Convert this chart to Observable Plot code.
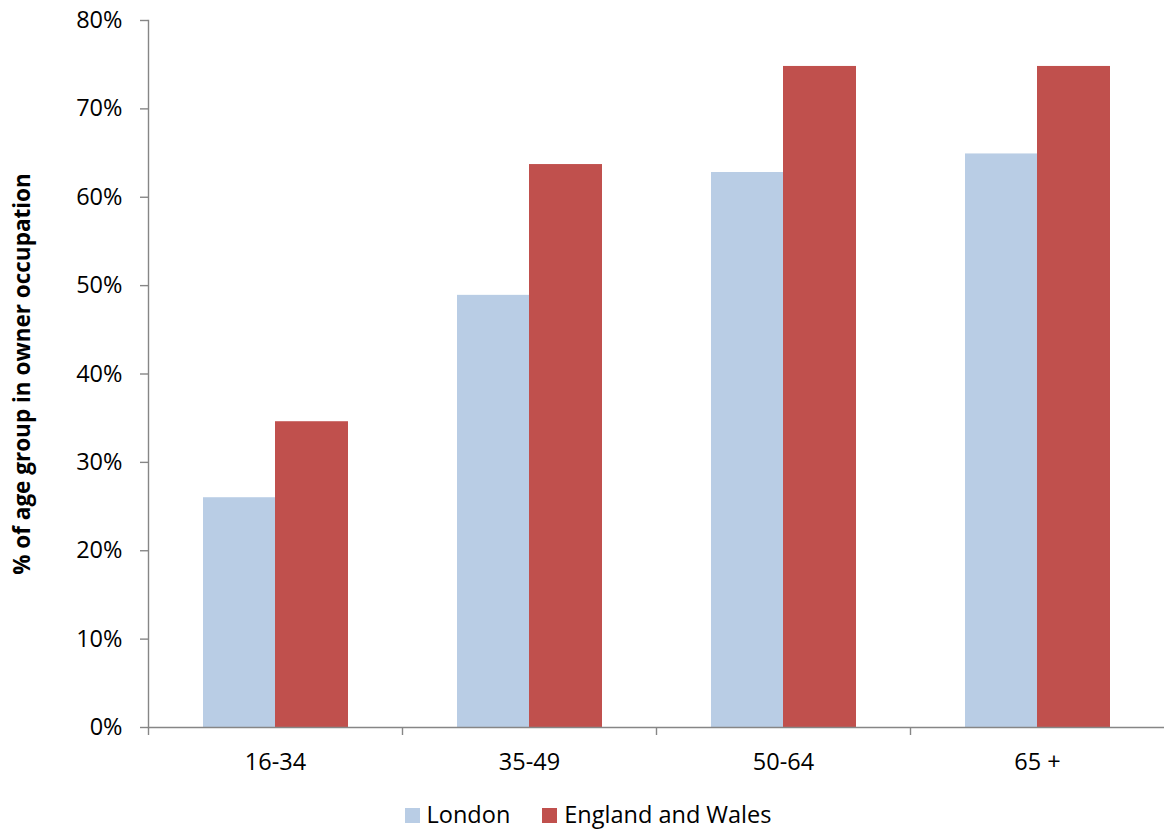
<!DOCTYPE html>
<html><head><meta charset="utf-8">
<script src="https://cdn.jsdelivr.net/npm/d3@7"></script>
<script src="https://cdn.jsdelivr.net/npm/@observablehq/plot@0.6"></script>
<style>
body{margin:0;background:#fff;font-family:"Open Sans",sans-serif;overflow:hidden;}
#chart svg{display:block;}
#legend{display:flex;justify-content:center;align-items:center;height:34px;font-size:23.5px;line-height:1;color:#000;padding-left:12px;}
.item{display:flex;align-items:center;margin:0 16px;}
.sw{width:15px;height:15px;margin-right:7px;}
</style></head><body><div id="chart"></div><div id="legend"></div>
<script>
const ageGroups = ["16-34", "35-49", "50-64", "65 +"];
const seriesNames = ["London", "England and Wales"];
const londonValues = [0.26, 0.489, 0.628, 0.649];
const englandWalesValues = [0.346, 0.637, 0.748, 0.748];
const yTicks = [0, 0.1, 0.2, 0.3, 0.4, 0.5, 0.6, 0.7, 0.8];
const seriesColors = ["#B9CDE5", "#C0504D"];
const yLabel = "% of age group in owner occupation";

const london = ageGroups.map((a, i) => ({age: a, series: seriesNames[0], value: londonValues[i]}));
const ew = ageGroups.map((a, i) => ({age: a, series: seriesNames[1], value: englandWalesValues[i]}));

const axisColor = "#868686";
const chart = Plot.plot({
  width: 1164,
  height: 798,
  marginLeft: 148,
  marginRight: 0,
  marginTop: 20,
  marginBottom: 71,
  style: {fontFamily: "'Open Sans', sans-serif", fontSize: "23.5px", color: "#000", background: "#fff"},
  x: {domain: ageGroups, padding: 0, axis: null},
  y: {domain: [0, 0.8], axis: null},
  color: {domain: seriesNames, range: seriesColors},
  marks: [
    Plot.barY(london, {x: "age", y: "value", fill: "series", insetLeft: 55, insetRight: 127}),
    Plot.barY(ew, {x: "age", y: "value", fill: "series", insetLeft: 127, insetRight: 54}),
    Plot.axisY({ticks: yTicks, tickFormat: d3.format(".0%"), tickSize: 8, tickPadding: 18, stroke: axisColor, strokeWidth: 1.4, label: null, fontSize: 23.5, fill: "#000"}),
    Plot.axisX({tickSize: 0, tickPadding: 26, label: null, fontSize: 23.5, fill: "#000"}),
    Plot.axisX({tickSize: 8, tickFormat: () => "", dx: -127, stroke: axisColor, strokeWidth: 1.4, label: null}),
    Plot.frame({anchor: "left", stroke: axisColor, strokeWidth: 1.4}),
    Plot.ruleY([0], {stroke: axisColor, strokeWidth: 1.4}),
    Plot.text([yLabel], {frameAnchor: "left", textAnchor: "middle", rotate: -90, dx: -126, fontWeight: "bold", fontSize: 22.5, fill: "#000"})
  ]
});
document.getElementById("chart").appendChild(chart);

const legend = document.getElementById("legend");
seriesNames.forEach((s, i) => {
  const it = document.createElement("div");
  it.className = "item";
  it.innerHTML = `<span class="sw" style="background:${seriesColors[i]}"></span><span>${s}</span>`;
  legend.appendChild(it);
});
</script></body></html>
